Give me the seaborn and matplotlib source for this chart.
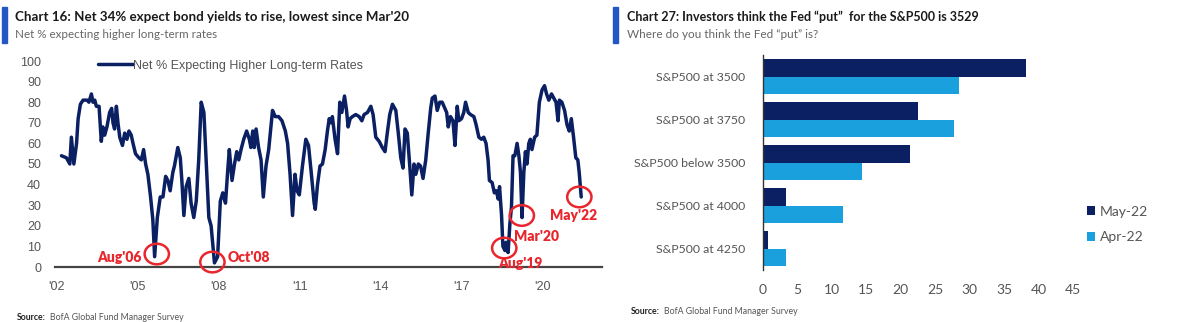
import numpy as np
import pandas as pd
import matplotlib
matplotlib.use("Agg")
import matplotlib.pyplot as plt
from matplotlib.patches import Ellipse, Rectangle
import seaborn as sns

# ---------------- data: left chart (monthly survey) ----------------
start_year = 2002.17
month_offset = [0, 2.2, 3.7, 4.4, 5.5, 6.7, 7.4, 8.4, 9.6, 11.4, 12.2, 13.3, 14.0, 14.8, 15.5, 16.7,
                17.7, 18.4, 19.2, 20.2, 21.4, 22.3, 22.9, 23.6, 24.4, 25.1, 25.9, 27.1, 28.1, 29.1,
                30.0, 31.0, 31.8, 32.9, 34.4, 35.5, 36.5, 37.4, 38.4, 39.6, 40.6, 41.4, 42.6, 43.9,
                45.1, 46.3, 47.3, 48.3, 49.5, 50.2, 51.7, 52.8, 53.5, 54.4, 55.4, 56.6, 57.6, 58.8,
                59.9, 61.0, 62.1, 63.3, 64.3, 65.5, 66.5, 68.0, 69.4, 70.6, 71.7, 72.9, 73.9, 74.6,
                75.8, 76.9, 77.9, 78.8, 79.8, 81.0, 82.3, 83.5, 84.2, 85.0, 85.7, 86.5, 87.6, 88.7,
                89.7, 90.9, 92.1, 93.1, 93.8, 95.0, 96.5, 98.0, 99.5, 100.5, 101.6, 102.7, 103.8,
                104.7, 105.7, 107.1, 108.6, 109.8, 110.9, 112.3, 112.8, 113.8, 114.9, 116.0, 117.2,
                118.2, 119.0, 119.7, 120.4, 121.6, 122.7, 123.7, 124.6, 125.8, 126.7, 127.4, 128.3,
                129.3, 130.8, 132.3, 133.5, 134.5, 136.0, 137.5, 138.5, 139.7, 141.2, 142.6, 143.8,
                144.8, 145.9, 147.1, 148.6, 149.7, 150.8, 151.8, 152.7, 153.7, 154.8, 155.7, 156.7,
                157.5, 158.6, 159.6, 160.7, 161.9, 163.0, 164.1, 164.8, 166.0, 167.0, 168.1, 169.2,
                170.4, 171.2, 171.9, 172.9, 174.0, 174.9, 175.9, 176.6, 177.8, 178.8, 179.6, 180.8,
                181.8, 183.3, 184.3, 185.5, 186.7, 187.7, 188.7, 189.6, 190.2, 191.4, 192.4, 193.3,
                194.1, 194.7, 195.6, 196.2, 197.1, 197.6, 198.5, 199.3, 200.0, 200.7, 201.5, 202.5,
                203.3, 204.0, 204.7, 205.5, 206.2, 206.9, 207.7, 208.4, 209.1, 210.3, 211.3, 212.4,
                213.6, 214.7, 215.6, 216.6, 217.8, 218.8, 219.8, 220.7, 221.3, 222.4, 223.6, 224.7,
                225.7, 226.6, 227.6, 228.6, 229.5, 230.1, 231.0]
net_pct = [54, 53, 50, 63, 50, 60, 72, 79, 81, 81, 80, 84, 80, 81, 78, 78,
           61, 68, 64, 68, 75, 77, 70, 67, 78, 70, 63, 59, 65, 62,
           66, 64, 60, 55, 53, 52, 57, 50, 45, 34, 23, 5, 24, 34,
           34, 44, 42, 37, 46, 49, 58, 53, 42, 25, 39, 43, 31, 24,
           32, 52, 80, 75, 52, 24, 20, 2, 5, 32, 36, 31, 47, 57,
           42, 50, 56, 52, 57, 62, 66, 62, 58, 66, 58, 67, 58, 52,
           34, 49, 57, 68, 76, 73, 73, 71, 66, 60, 45, 25, 45,
           37, 35, 49, 62, 59, 47, 31, 28, 40, 49, 50, 57,
           66, 72, 70, 73, 62, 55, 80, 75, 83, 76, 68, 72,
           73, 74, 73, 71, 74, 75, 78, 74, 63, 61, 58, 56,
           65, 74, 79, 76, 65, 53, 48, 67, 65, 49, 35, 50,
           45, 50, 49, 43, 52, 65, 77, 82, 83, 76, 80, 80,
           77, 75, 68, 73, 71, 59, 78, 71, 72, 75, 80, 75,
           74, 73, 69, 63, 62, 63, 60, 52, 42, 41, 36, 37,
           33, 39, 25, 10, 8, 12, 7, 21, 29, 54, 54, 60,
           54, 46, 24, 46, 56, 50, 60, 62, 57, 63, 64, 80,
           86, 88, 84, 81, 84, 82, 80, 71, 81, 80, 76, 69,
           66, 72, 63, 53, 52, 46, 34]
year_ticks = [2002, 2005, 2008, 2011, 2014, 2017, 2020]
year_labels = ["'02", "'05", "'08", "'11", "'14", "'17", "'20"]
callout_labels = ["Aug'06", "Oct'08", "Aug'19", "Mar'20", "May'22"]
callout_x = [2005.70, 2007.76, 2018.57, 2019.22, 2021.35]
callout_y = [6.3, 2.4, 9.2, 25.0, 34.0]

# ---------------- data: right chart ----------------
categories = ["S&P500 at 3500", "S&P500 at 3750", "S&P500 below 3500", "S&P500 at 4000", "S&P500 at 4250"]
may_22 = [38.2, 22.5, 21.4, 3.4, 0.7]
apr_22 = [28.4, 27.7, 14.3, 11.6, 3.4]

# ---------------- style ----------------
sns.set_theme(style="white")
NARROW = ["Lato", "DejaVu Sans"]
REG = ["Liberation Sans", "DejaVu Sans"]
plt.rcParams["font.family"] = REG
NAVY = "#0A2062"
LIGHT = "#1AA0DD"
RED = "#E8262D"
GREY = "#555555"
ACCENT = "#2457C5"

W, H = 1200, 322
fig = plt.figure(figsize=(W / 100, H / 100), dpi=100)

def fx(px):
    return px / W

def fy(py):
    return (H - py) / H

# ---------------- left chart ----------------
axL = fig.add_axes([fx(55), fy(267), fx(602) - fx(55), fy(61) - fy(267)])
df = pd.DataFrame({"year": start_year + np.array(month_offset) / 12.0, "value": net_pct,
                   "series": "Net % Expecting Higher Long-term Rates"})
sns.lineplot(data=df, x="year", y="value", hue="series", palette=[NAVY], lw=2.5, ax=axL)
axL.set_xlim(2001.93, 2022.19)
axL.set_ylim(0, 100)
axL.set_yticks(range(0, 101, 10))
axL.set_xticks(year_ticks)
axL.set_xticklabels(year_labels)
axL.set_xlabel("")
axL.set_ylabel("")
for s in ["top", "right", "left"]:
    axL.spines[s].set_visible(False)
axL.spines["bottom"].set_color("#444444")
axL.spines["bottom"].set_linewidth(1.6)
axL.tick_params(axis="y", length=0, pad=10, labelsize=9, labelcolor=GREY)
axL.tick_params(axis="x", length=0, pad=10, labelsize=9, labelcolor=GREY)
leg = axL.legend(loc="upper left", bbox_to_anchor=(0.07, 1.03), frameon=False,
                 fontsize=9, handlelength=2.8, handletextpad=0.0, borderaxespad=0)
for t in leg.get_texts():
    t.set_color(GREY)

for lab, cx, cy in zip(callout_labels, callout_x, callout_y):
    axL.add_patch(Ellipse((cx, cy), width=0.9, height=10.0, fill=False,
                          edgecolor=RED, lw=1.8, clip_on=False, zorder=5))

ann_kw = dict(color=RED, fontsize=10, fontweight="heavy", family=NARROW, va="center")
axL.text(2005.15, 4.4, "Aug'06", ha="right", **ann_kw)
axL.text(2008.33, 4.4, "Oct'08", ha="left", **ann_kw)
axL.text(2019.15, 1.8, "Aug'19", ha="center", **ann_kw)
axL.text(2019.76, 15.0, "Mar'20", ha="center", **ann_kw)
axL.text(2021.15, 24.8, "May'22", ha="center", **ann_kw)

# ---------------- right chart ----------------
axR = fig.add_axes([fx(763), fy(270), fx(1073) - fx(763), fy(55) - fy(270)])
dfb = pd.DataFrame({
    "category": categories * 2,
    "value": may_22 + apr_22,
    "month": ["May-22"] * len(categories) + ["Apr-22"] * len(categories),
})
sns.barplot(data=dfb, y="category", x="value", hue="month", order=categories,
            hue_order=["May-22", "Apr-22"], palette=[NAVY, LIGHT], width=0.8,
            orient="h", ax=axR, saturation=1, errorbar=None, linewidth=0)
axR.set_xlim(0, 45)
axR.set_xticks(range(0, 46, 5))
axR.set_xlabel("")
axR.set_ylabel("")
for s in ["top", "right", "bottom"]:
    axR.spines[s].set_visible(False)
axR.spines["left"].set_color("#333333")
axR.spines["left"].set_linewidth(1.0)
axR.tick_params(axis="x", length=0, pad=10, labelsize=10)
axR.tick_params(axis="y", length=0, pad=13, labelsize=8.8)
for t in axR.get_xticklabels() + axR.get_yticklabels():
    t.set_color(GREY)
    t.set_family(NARROW)
legR = axR.legend(loc="upper left", bbox_to_anchor=(fx(1081), fy(200)),
                  bbox_transform=fig.transFigure, frameon=False, fontsize=10,
                  handlelength=0.6, handleheight=0.6, handletextpad=0.35, labelspacing=1.0,
                  borderaxespad=0)
for t in legR.get_texts():
    t.set_color(GREY)
    t.set_family(NARROW)

# ---------------- titles, accents, sources ----------------
fig.add_artist(Rectangle((fx(2), fy(43)), fx(5), fy(7) - fy(43), color=ACCENT,
                         transform=fig.transFigure))
fig.add_artist(Rectangle((fx(613), fy(43)), fx(5), fy(7) - fy(43), color=ACCENT,
                         transform=fig.transFigure))
fig.text(fx(15), fy(17), "Chart 16: Net 34% expect bond yields to rise, lowest since Mar'20",
         fontsize=9.6, fontweight="bold", family=NARROW, color="#1a1a1a", va="center")
fig.text(fx(15), fy(34), "Net % expecting higher long-term rates",
         fontsize=8.4, family=NARROW, color="#666666", va="center")
fig.text(fx(627), fy(17), "Chart 27: Investors think the Fed \u201cput\u201d  for the S&P500 is 3529",
         fontsize=9.0, fontweight="bold", family=NARROW, color="#1a1a1a", va="center")
fig.text(fx(627), fy(34), "Where do you think the Fed \u201cput\u201d is?",
         fontsize=8.5, family=NARROW, color="#666666", va="center")

fig.canvas.draw()
renderer = fig.canvas.get_renderer()
for x0, y0 in [(17, 317), (631, 312)]:
    t1 = fig.text(fx(x0), fy(y0), "Source:", fontsize=6.3, fontweight="bold",
                  family=NARROW, color="#222222", va="center")
    bb = t1.get_window_extent(renderer=renderer)
    fig.text(fx(bb.x1 + 4), fy(y0), "BofA Global Fund Manager Survey", fontsize=6.3,
             family=NARROW, color=GREY, va="center")

fig.savefig("out.png", dpi=100, facecolor="white")
